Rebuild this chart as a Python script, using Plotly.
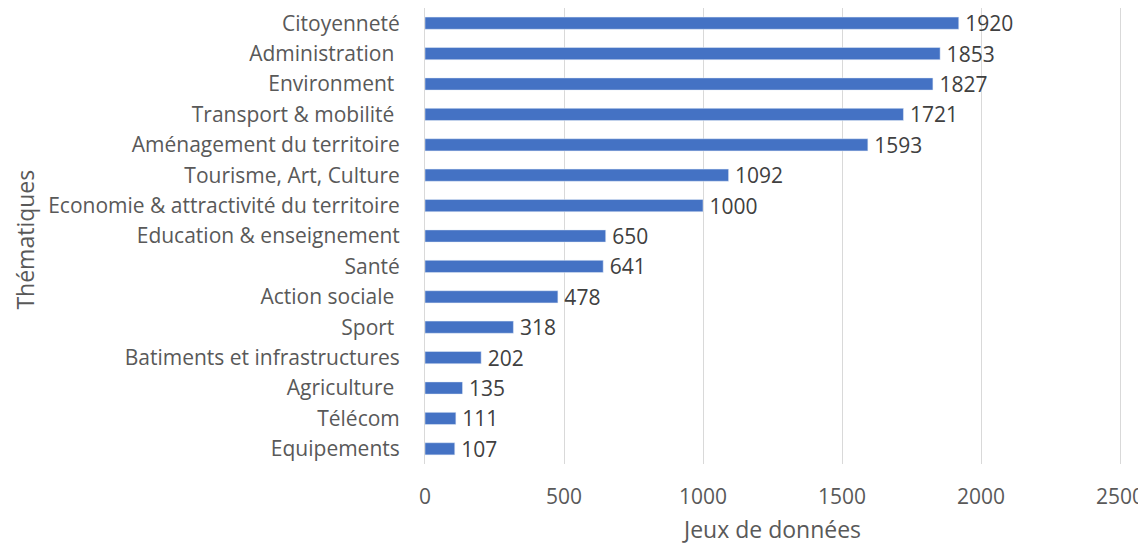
import plotly.graph_objects as go

categories = ["Citoyenneté", "Administration\u00a0", "Environment\u00a0", "Transport & mobilité\u00a0",
              "Aménagement du territoire", "Tourisme, Art, Culture",
              "Economie & attractivité du territoire", "Education & enseignement", "Santé",
              "Action sociale\u00a0", "Sport\u00a0", "Batiments et infrastructures",
              "Agriculture\u00a0", "Télécom", "Equipements"]
values = [1920, 1853, 1827, 1721, 1593, 1092, 1000, 650, 641, 478, 318, 202, 135, 111, 107]
x_ticks = [0, 500, 1000, 1500, 2000, 2500]

FONT = "Open Sans"

fig = go.Figure(go.Bar(
    x=values, y=categories, orientation="h",
    marker=dict(color="#4472C4"),
    width=0.4,
    text=["\u2009" + str(v) for v in values], textposition="outside",
    constraintext="none",
    textfont=dict(family=FONT, size=21, color="#404040"),
    cliponaxis=False,
))

# page body has an 8px margin: figure is sized so the plot area lands at x 425-1120, y 8-464
fig.update_layout(
    width=1138, height=536,
    margin=dict(l=417, r=26, t=0, b=80),
    plot_bgcolor="white", paper_bgcolor="white",
    showlegend=False,
    xaxis=dict(range=[0, 2500], tickvals=x_ticks, showgrid=True, gridcolor="#D9D9D9",
               gridwidth=1, zeroline=False, showline=False, ticks="",
               ticklabelstandoff=18,
               tickfont=dict(family=FONT, size=21, color="#595959"),
               automargin=False),
    yaxis=dict(autorange="reversed", showgrid=False, showline=True, mirror=True,
               linecolor="#D9D9D9", linewidth=1, ticks="", ticklabelstandoff=20,
               tickfont=dict(family=FONT, size=21, color="#595959"),
               automargin=False),
    annotations=[
        dict(text="Thématiques", textangle=-90, xref="paper", yref="paper",
             x=(24 - 425) / 696, y=(464 - 240) / 456, xanchor="center", yanchor="middle",
             showarrow=False, font=dict(family=FONT, size=23, color="#595959")),
        dict(text="Jeux de données", xref="paper", yref="paper",
             x=(771 - 425) / 695, y=(464 - 529) / 456, xanchor="center", yanchor="middle",
             showarrow=False, font=dict(family=FONT, size=23, color="#595959")),
    ],
)

fig.write_html("out.html")
